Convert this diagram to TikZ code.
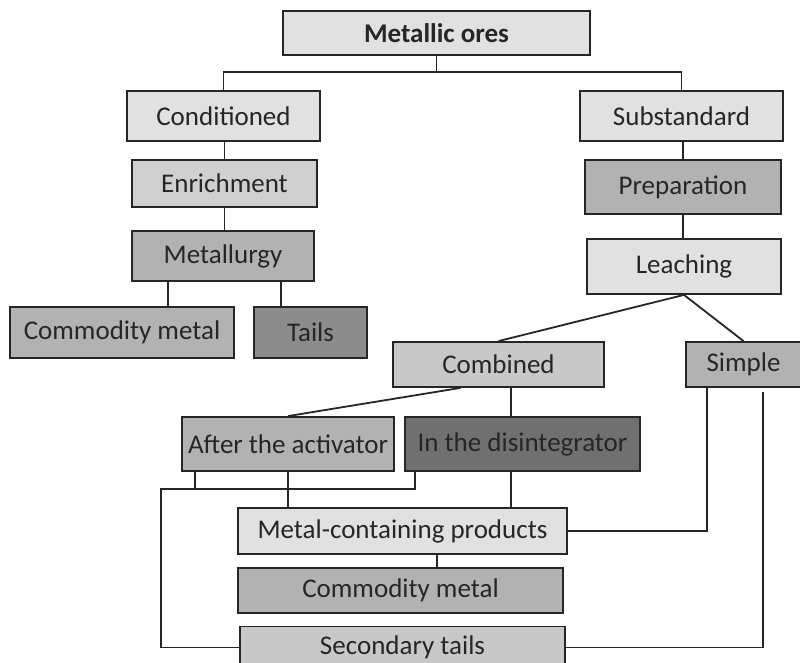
\documentclass[tikz,border=0pt]{standalone}
\usepackage{fontspec}
\setmainfont{Carlito}
\usepackage{xcolor}
\usetikzlibrary{positioning, calc}

\definecolor{ink}{HTML}{262626}
\definecolor{gA}{HTML}{E1E1E1} % lightest
\definecolor{gB}{HTML}{D0D0D0}
\definecolor{gC}{HTML}{C8C8C8}
\definecolor{gD}{HTML}{B2B2B2}
\definecolor{gE}{HTML}{8C8C8C}
\definecolor{gF}{HTML}{707070} % darkest

\begin{document}
\begin{tikzpicture}[
    x=0.5pt, y=-0.5pt,
    box/.style={draw=ink, line width=0.9pt, inner sep=0pt, text=ink,
                font=\fontsize{13.5}{15}\selectfont},
    link/.style={draw=ink, line width=0.9pt},
  ]
    \useasboundingbox (0,0) rectangle (800,663);

    % Top level
    \node[box, fill=gA, minimum width=153.5pt, minimum height=22pt, font=\fontsize{13.5}{15}\selectfont\bfseries] (ores) at (436.5,33) {Metallic ores};

    % Left branch
    \node[box, fill=gA, minimum width=96.5pt, minimum height=25pt] (cond) at (223.5,116) {Conditioned};
    \node[box, fill=gB, minimum width=92.5pt, minimum height=23.5pt] (enrich) at (224.5,183.5) {Enrichment};
    \node[box, fill=gD, minimum width=91pt, minimum height=25pt] (metall) at (223,256) {Metallurgy};
    \node[box, fill=gD, minimum width=112pt, minimum height=25.5pt] (cmL) at (122,332.5) {Commodity metal};
    \node[box, fill=gE, minimum width=56.5pt, minimum height=25.5pt] (tails) at (310.5,332.5) {Tails};

    % Right branch
    \node[box, fill=gA, minimum width=101.5pt, minimum height=25pt] (subst) at (681.5,116) {Substandard};
    \node[box, fill=gD, minimum width=98pt, minimum height=27pt] (prep) at (683,187) {Preparation};
    \node[box, fill=gA, minimum width=97pt, minimum height=27.5pt] (leach) at (684,266.5) {Leaching};
    \node[box, fill=gC, minimum width=105.5pt, minimum height=22.5pt] (comb) at (498.5,364.5) {Combined};
    \node[box, fill=gD, minimum width=57.5pt, minimum height=22.5pt] (simple) at (743.5,364.5) {Simple};

    % Combined leaching
    \node[box, fill=gD, minimum width=106pt, minimum height=27pt] (after) at (288,444) {After the activator};
    \node[box, fill=gF, minimum width=117.5pt, minimum height=27pt] (disint) at (522.5,444) {In the disintegrator};

    % Products
    \node[box, fill=gA, minimum width=164.5pt, minimum height=23pt] (mcp) at (402.5,531) {Metal-containing products};
    \node[box, fill=gD, minimum width=162.5pt, minimum height=22.5pt] (cmC) at (400.5,590.5) {Commodity metal};
    \node[box, fill=gC, minimum width=162.5pt, minimum height=21pt] (sec) at (402.5,647.5) {Secondary tails};

    % Bus and tap coordinates
    \coordinate (topbus) at (436.5,72);
    \coordinate (lbus) at (161,489);
    \coordinate (m1) at ($(metall.south west)+(37,0)$);
    \coordinate (m2) at ($(metall.south west)+(150,0)$);
    \coordinate (c1) at ($(comb.south)+(-38,0)$);
    \coordinate (c2) at ($(comb.south)+(12.5,0)$);
    \coordinate (a1) at ($(after.south west)+(14,0)$);
    \coordinate (d1) at ($(disint.south west)+(11,0)$);
    \coordinate (d2) at ($(disint.south)+(-11.5,0)$);
    \coordinate (s1) at ($(simple.south west)+(22,0)$);
    \coordinate (s2) at ($(simple.south west)+(78,4)$);
    \coordinate (p1) at ($(mcp.south)+(34.5,0)$);

    % Connectors
    \draw[link] (ores.south) -- (topbus);
    \draw[link] (cond.north) |- (topbus) -| (subst.north);
    \draw[link] (enrich.north) -- (enrich.north |- cond.south);
    \draw[link] (enrich.south) -- (enrich.south |- metall.north);
    \draw[link] (m1) -- (m1 |- cmL.north);
    \draw[link] (m2) -- (m2 |- tails.north);

    \draw[link] (prep.north) -- (prep.north |- subst.south);
    \draw[link] (prep.south) -- (prep.south |- leach.north);
    \draw[link] (leach.south) -- (comb.north);
    \draw[link] (leach.south) -- (simple.north);

    \draw[link] (c1) -- (after.north);
    \draw[link] (c2) -- (c2 |- disint.north);

    \draw[link] (d1) |- (lbus) |- (sec.west);
    \draw[link] (a1) -- (a1 |- lbus);
    \draw[link] (after.south) -- (after.south |- mcp.north);
    \draw[link] (d2) -- (d2 |- mcp.north);

    \draw[link] (s1) |- (mcp.east);
    \draw[link] (s2) |- (sec.east);
    \draw[link] (p1) -- (p1 |- cmC.north);
\end{tikzpicture}
\end{document}
